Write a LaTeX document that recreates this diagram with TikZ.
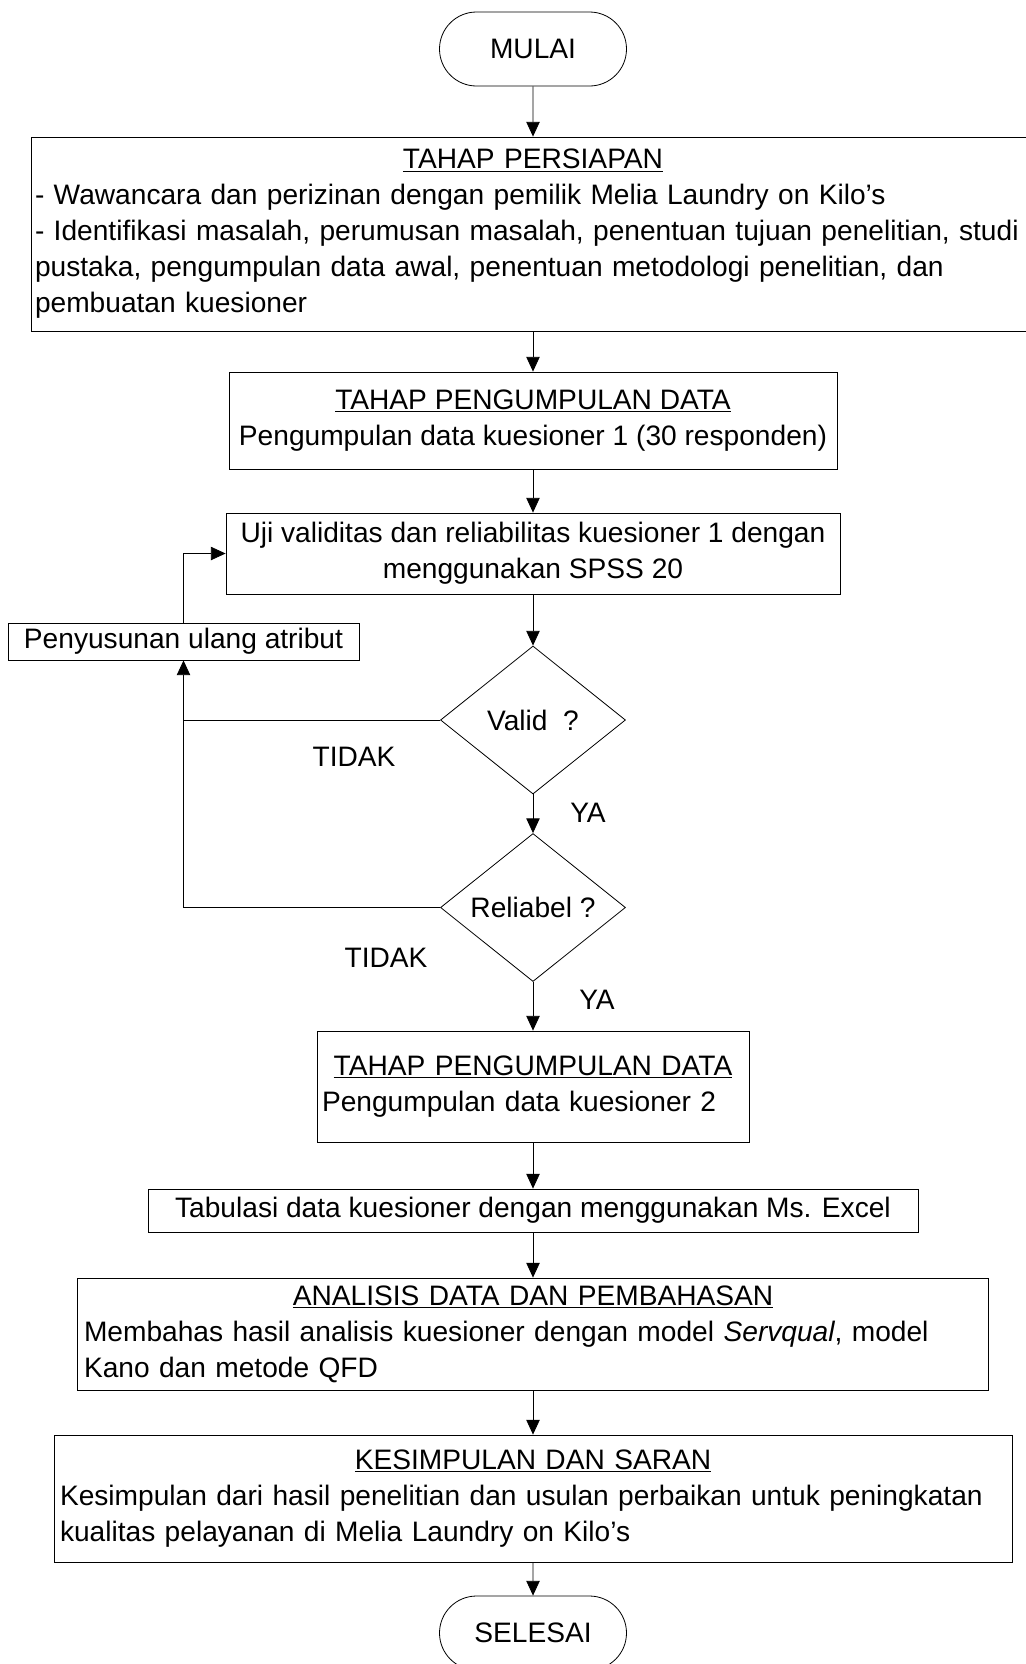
\documentclass[tikz,border=0pt]{standalone}
\usepackage{fontspec}
\setmainfont{Liberation Sans}
\usetikzlibrary{shapes.geometric}
\usetikzlibrary{shapes.misc}
\usetikzlibrary{arrows.meta}

\begin{document}
\begin{tikzpicture}[x=0.75pt,y=0.75pt,yscale=-1,xscale=1,line width=0.6pt,
    font=\fontsize{21.1}{27}\selectfont,
    terminal/.style={draw,rounded rectangle,inner sep=0pt,minimum width=140.25pt,minimum height=55.5pt},
    prosesbox/.style={draw,rectangle,inner xsep=3.75pt,inner ysep=0pt},
    keputusan/.style={draw,diamond,inner sep=0pt,minimum width=138.75pt,minimum height=111pt},
    alur/.style={-{Triangle[length=11pt,width=10pt]}}]
    
    %set diagram size
    \useasboundingbox (0,0) rectangle (1025,1664);
    
    %Shape: Terminal [id:mulai]
    \node[terminal] (mulai) at (533,49) {MULAI};
    %Shape: Rectangle [id:persiapan]
    \node[prosesbox,text width=747pt,align=left,inner xsep=3pt,minimum height=145.5pt] (persiapan) at (533,234) {{\centering\underline{TAHAP PERSIAPAN}\par}
    - Wawancara dan perizinan dengan pemilik Melia Laundry on Kilo’s\\
    - Identifikasi masalah, perumusan masalah, penentuan tujuan penelitian, studi\\
    pustaka, pengumpulan data awal, penentuan metodologi penelitian, dan\\
    pembuatan kuesioner};
    %Shape: Rectangle [id:kumpul1]
    \node[prosesbox,align=center,minimum width=456pt,minimum height=72.75pt] (kumpul1) at (533,420.5) {\underline{TAHAP PENGUMPULAN DATA}\\Pengumpulan data kuesioner 1 (30 responden)};
    %Shape: Rectangle [id:uji]
    \node[prosesbox,align=center,minimum width=460.5pt,minimum height=60.75pt] (uji) at (533,553.5) {Uji validitas dan reliabilitas kuesioner 1 dengan\\menggunakan SPSS 20};
    %Shape: Rectangle [id:susun]
    \node[prosesbox,minimum width=263.25pt,minimum height=27.75pt] (susun) at (183.5,641.5) {Penyusunan ulang atribut};
    %Shape: Diamond [id:valid]
    \node[keputusan] (valid) at (533,720) {Valid\ \ ?};
    %Shape: Diamond [id:reliabel]
    \node[keputusan] (reliabel) at (533,907.5) {Reliabel ?};
    %Shape: Rectangle [id:kumpul2]
    \node[prosesbox,text width=316.5pt,align=left,minimum height=83.25pt] (kumpul2) at (533,1086.5) {{\centering\underline{TAHAP PENGUMPULAN DATA}\par}Pengumpulan data kuesioner 2};
    %Shape: Rectangle [id:tabulasi]
    \node[prosesbox,minimum width=577.5pt,minimum height=32.25pt] (tabulasi) at (533,1210.5) {Tabulasi data kuesioner dengan menggunakan Ms. Excel};
    %Shape: Rectangle [id:analisis]
    \node[prosesbox,text width=673.5pt,align=left,inner xsep=4.875pt,minimum height=84pt] (analisis) at (533,1334) {{\centering\underline{ANALISIS DATA DAN PEMBAHASAN}\par}
    Membahas hasil analisis kuesioner dengan model \textit{Servqual}, model\\
    Kano dan metode QFD};
    %Shape: Rectangle [id:simpulan]
    \node[prosesbox,text width=709.5pt,align=left,inner xsep=4.5pt,minimum height=95.25pt] (simpulan) at (533,1498.5) {{\centering\underline{KESIMPULAN DAN SARAN}\par}
    Kesimpulan dari hasil penelitian dan usulan perbaikan untuk peningkatan\\
    kualitas pelayanan di Melia Laundry on Kilo’s};
    %Shape: Terminal [id:selesai]
    \node[terminal] (selesai) at (533,1633) {SELESAI};
    
    %Text labels
    \node (tidak1) at (354,757) {TIDAK};
    \node (ya1) at (588,813) {YA};
    \node (tidak2) at (386,958) {TIDAK};
    \node (ya2) at (597,1000) {YA};
    
    %Straight Lines
    \draw[alur] (mulai) -- (persiapan);
    \draw[alur] (persiapan) -- (kumpul1);
    \draw[alur] (kumpul1) -- (uji);
    \draw[alur] (uji) -- (valid);
    \draw[alur] (valid) -- (reliabel);
    \draw[alur] (reliabel) -- (kumpul2);
    \draw[alur] (kumpul2) -- (tabulasi);
    \draw[alur] (tabulasi) -- (analisis);
    \draw[alur] (analisis) -- (simpulan);
    \draw[alur] (simpulan) -- (selesai);
    %loop back
    \draw[alur] (valid.west) -| (susun.south);
    \draw (reliabel.west) -| (susun.south |- valid.west);
    \draw[alur] (susun.north) |- (uji.west);
    
\end{tikzpicture}
\end{document}
